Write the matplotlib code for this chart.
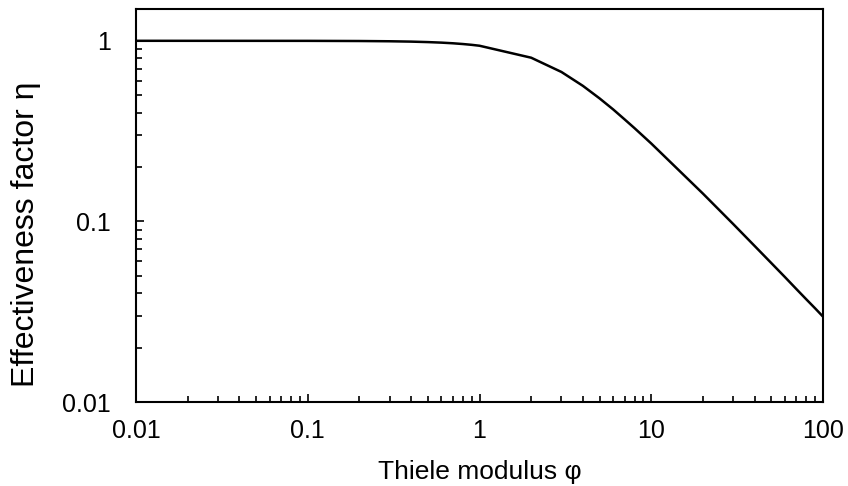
import numpy as np
import matplotlib.pyplot as plt
from matplotlib.ticker import LogLocator, FixedLocator, NullFormatter

plt.rcParams['font.family'] = ['Liberation Sans', 'DejaVu Sans']

# Thiele modulus and effectiveness factor (sphere)
phi = [0.01, 0.1, 0.2, 0.3, 0.4, 0.5, 0.6, 0.7, 0.8, 0.9,
       1, 2, 3, 4, 5, 6, 7, 8, 9, 10,
       20, 30, 40, 50, 60, 70, 80, 90, 100]
eta = [1.0, 0.9993, 0.9973, 0.9941, 0.9896, 0.9837, 0.9769, 0.9689, 0.9597, 0.9499,
       0.939, 0.806, 0.672, 0.563, 0.480, 0.417, 0.367, 0.328, 0.296, 0.270,
       0.1425, 0.0967, 0.0731, 0.0588, 0.0492, 0.0422, 0.0370, 0.0330, 0.0297]

xticks = [0.01, 0.1, 1, 10, 100]
xlabels = ['0.01', '0.1', '1', '10', '100']
yticks = [0.01, 0.1, 1]
ylabels = ['0.01', '0.1', '1']

fig = plt.figure(figsize=(8.48, 4.86), dpi=100)
ax = fig.add_axes([136/848, 1-402/486, (823-136)/848, (402-9)/486])
ax.plot(phi, eta, color='black', lw=1.8)
ax.set_xscale('log')
ax.set_yscale('log')
ax.set_xlim(0.01, 100)
ax.set_ylim(0.01, 1.5)

ax.xaxis.set_major_locator(FixedLocator(xticks))
ax.set_xticklabels(xlabels)
ax.yaxis.set_major_locator(FixedLocator(yticks))
ax.set_yticklabels(ylabels)
ax.xaxis.set_minor_locator(LogLocator(base=10, subs=np.arange(2, 10)))
ax.yaxis.set_minor_locator(LogLocator(base=10, subs=np.arange(2, 10)))
ax.xaxis.set_minor_formatter(NullFormatter())
ax.yaxis.set_minor_formatter(NullFormatter())

ax.tick_params(which='major', direction='in', length=6, width=1.2, labelsize=18)
ax.tick_params(axis='x', which='major', pad=12)
ax.tick_params(axis='y', which='major', pad=18)
ax.tick_params(which='minor', direction='in', length=4, width=1.2)
for s in ax.spines.values():
    s.set_linewidth(1.5)

ax.set_xlabel('Thiele modulus φ', fontsize=19)
ax.set_ylabel('Effectiveness factor η', fontsize=23)
ax.xaxis.set_label_coords(0.5, -0.148)
ax.yaxis.set_label_coords(-0.139, 0.427)

fig.savefig('out.png', dpi=100)
